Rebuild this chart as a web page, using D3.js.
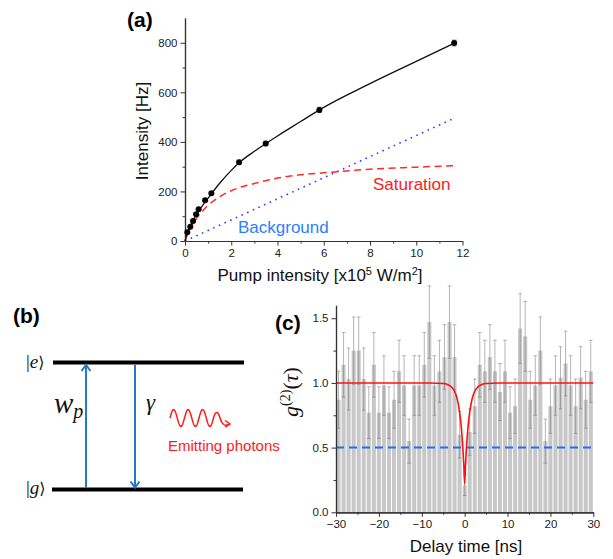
<!DOCTYPE html>
<html>
<head>
<meta charset="utf-8">
<script src="https://cdn.jsdelivr.net/npm/d3@7"></script>
<style>
  body { margin: 0; background: #fff; }
  text { font-family: "Liberation Sans", Arial, sans-serif; }
</style>
</head>
<body>
<svg id="fig" width="613" height="559"></svg>
<script>
// ---- (a) intensity vs pump ----
const pumpX   = [0.1, 0.23, 0.35, 0.48, 0.59, 0.87, 1.14, 2.34, 3.49, 5.81, 11.64];
const pumpY   = [35, 58, 81, 108, 128, 164, 193, 318, 393, 529, 799];
const pumpErr = [4, 4, 4, 5, 5, 6, 6, 8, 9, 11, 12];
// fitted curves
const fitX     = [0, 0.1, 0.25, 0.5, 0.75, 1, 1.5, 2, 2.34, 3, 3.49, 4, 5, 5.81, 8, 10, 11.7];
const fitTotal = [0, 34, 66, 108, 142, 173, 233, 285, 316, 362, 393, 424, 482, 529, 635, 725, 801];
const satX     = [0, 0.1, 0.25, 0.5, 0.75, 1, 1.5, 2, 3, 4, 5, 6, 8, 10, 11.7];
const fitSat   = [0, 24, 53, 92, 120, 144, 179, 203, 232, 254, 267, 275, 290, 298, 304];
const bgX = [0, 11.7];
const bgY = [0, 498];
const aXTicks = [0, 2, 4, 6, 8, 10, 12];
const aYTicks = [0, 200, 400, 600, 800];

// ---- (c) g2(tau) histogram ----
const binW = 30 / 25.5;
const g2Vals = [0.87, 1.14, 1.03, 1.25, 1.25, 1.03, 0.77, 1.14, 0.77, 0.98,
                0.77, 0.87, 1.09, 0.98, 0.55, 0.98, 0.98, 1.14, 1.47, 0.98,
                1.09, 1.20, 1.47, 1.20, 0.60, 0.21, 0.62, 0.82, 1.14, 1.09,
                1.20, 1.09, 0.93, 1.09, 0.77, 0.82, 1.42, 1.36, 0.87, 0.98,
                1.25, 0.55, 0.82, 0.98, 1.04, 1.15, 0.98, 0.82, 1.04, 0.87, 1.09];
const g2Err  = [0.22, 0.25, 0.24, 0.26, 0.26, 0.24, 0.20, 0.25, 0.20, 0.23,
                0.20, 0.22, 0.24, 0.23, 0.17, 0.23, 0.23, 0.25, 0.28, 0.23,
                0.24, 0.25, 0.28, 0.25, 0.18, 0.08, 0.18, 0.21, 0.25, 0.24,
                0.25, 0.24, 0.22, 0.24, 0.20, 0.21, 0.27, 0.27, 0.22, 0.23,
                0.26, 0.17, 0.21, 0.23, 0.24, 0.25, 0.23, 0.21, 0.24, 0.22, 0.24];
const tFit = [-30, -8, -5, -4, -3, -2.5, -2, -1.5, -1, -0.7, -0.4, -0.2, 0,
              0.2, 0.4, 0.7, 1, 1.5, 2, 2.5, 3, 4, 5, 8, 30];
const gFit = [1, 1, 0.996, 0.988, 0.967, 0.944, 0.907, 0.839, 0.728, 0.626, 0.488, 0.368, 0.22,
              0.368, 0.488, 0.626, 0.728, 0.839, 0.907, 0.944, 0.967, 0.988, 0.996, 1, 1];
const cXTicks = [-30, -20, -10, 0, 10, 20, 30];
const cYTicks = [0, 0.5, 1.0, 1.5];

const svg = d3.select("#fig");
svg.append("rect").attr("width", 613).attr("height", 559).attr("fill", "#fff");

const styleAxis = g => {
  g.selectAll("path.domain").attr("stroke", "#333").attr("stroke-width", 1.2);
  g.selectAll(".tick line").attr("stroke", "#333");
  g.selectAll(".tick text").attr("fill", "#222").style("font-size", "11.5px")
    .style("font-family", '"Liberation Sans", Arial, sans-serif');
};

// ================= panel (a) =================
const xa = d3.scaleLinear().domain([0, 12]).range([185, 462.5]);
const ya = d3.scaleLinear().domain([0, 900]).range([241, 18]);
const ga = svg.append("g");

ga.append("g").attr("transform", "translate(0,241)")
  .call(d3.axisBottom(xa).tickValues(d3.range(1, 12, 2)).tickFormat("").tickSize(2.5).tickSizeOuter(0))
  .call(styleAxis);
ga.append("g").attr("transform", "translate(0,241)")
  .call(d3.axisBottom(xa).tickValues(aXTicks).tickSize(4.5).tickPadding(3).tickSizeOuter(0))
  .call(styleAxis);
ga.append("g").attr("transform", "translate(185,0)")
  .call(d3.axisLeft(ya).tickValues([100, 300, 500, 700]).tickFormat("").tickSize(2.5).tickSizeOuter(0))
  .call(styleAxis);
ga.append("g").attr("transform", "translate(185,0)")
  .call(d3.axisLeft(ya).tickValues(aYTicks).tickSize(4.5).tickPadding(3).tickSizeOuter(0))
  .call(styleAxis);

const lineA = d3.line().x(d => xa(d[0])).y(d => ya(d[1]));
ga.append("path").datum(d3.zip(bgX, bgY))
  .attr("d", lineA).attr("fill", "none").attr("stroke", "#3a3aff")
  .attr("stroke-width", 1.6).attr("stroke-dasharray", "1.6,4.6");
ga.append("path").datum(d3.zip(satX, fitSat))
  .attr("d", lineA.curve(d3.curveMonotoneX)).attr("fill", "none").attr("stroke", "#ff2a2a")
  .attr("stroke-width", 1.5).attr("stroke-dasharray", "7,4.5");
ga.append("path").datum(d3.zip(fitX, fitTotal))
  .attr("d", lineA.curve(d3.curveMonotoneX)).attr("fill", "none").attr("stroke", "#111")
  .attr("stroke-width", 1.3);

const ptsA = d3.zip(pumpX, pumpY, pumpErr);
const eb = ga.append("g").attr("stroke", "#9a9a9a").attr("stroke-width", 1);
eb.selectAll("line.v").data(ptsA).join("line")
  .attr("x1", d => xa(d[0])).attr("x2", d => xa(d[0]))
  .attr("y1", d => ya(d[1] - d[2])).attr("y2", d => ya(d[1] + d[2]));
eb.selectAll("line.t").data(ptsA).join("line")
  .attr("x1", d => xa(d[0]) - 2.5).attr("x2", d => xa(d[0]) + 2.5)
  .attr("y1", d => ya(d[1] + d[2])).attr("y2", d => ya(d[1] + d[2]));
eb.selectAll("line.b").data(ptsA).join("line")
  .attr("x1", d => xa(d[0]) - 2.5).attr("x2", d => xa(d[0]) + 2.5)
  .attr("y1", d => ya(d[1] - d[2])).attr("y2", d => ya(d[1] - d[2]));
ga.selectAll("circle").data(ptsA).join("circle")
  .attr("cx", d => xa(d[0])).attr("cy", d => ya(d[1])).attr("r", 3).attr("fill", "#000");

ga.append("text").attr("x", 373).attr("y", 190).attr("fill", "#ff2020")
  .style("font-size", "17px").text("Saturation");
ga.append("text").attr("x", 238).attr("y", 233).attr("fill", "#2a7fff")
  .style("font-size", "17px").text("Background");
ga.append("text").attr("transform", "translate(148,131) rotate(-90)")
  .attr("text-anchor", "middle").style("font-size", "17px").attr("fill", "#111")
  .text("Intensity [Hz]");
const xl = ga.append("text").attr("x", 320).attr("y", 281).attr("text-anchor", "middle")
  .style("font-size", "17px").attr("fill", "#111");
xl.append("tspan").text("Pump intensity [x10");
xl.append("tspan").attr("dy", -6).style("font-size", "11px").text("5");
xl.append("tspan").attr("dy", 6).text(" W/m");
xl.append("tspan").attr("dy", -6).style("font-size", "11px").text("2");
xl.append("tspan").attr("dy", 6).text("]");
ga.append("text").attr("x", 127).attr("y", 27).style("font-size", "21px")
  .style("font-weight", "bold").text("(a)");

// ================= panel (b) =================
const gb = svg.append("g");
const blue = "#2478c8";
const serif = '"Liberation Serif", "DejaVu Serif", serif';
gb.append("text").attr("x", 13).attr("y", 323).style("font-size", "21px")
  .style("font-weight", "bold").text("(b)");
gb.append("line").attr("x1", 53).attr("x2", 244).attr("y1", 362.5).attr("y2", 362.5)
  .attr("stroke", "#000").attr("stroke-width", 4);
gb.append("line").attr("x1", 52).attr("x2", 243).attr("y1", 489.5).attr("y2", 489.5)
  .attr("stroke", "#000").attr("stroke-width", 4);

const ket = (x, y, s) => {
  const t = gb.append("text").attr("x", x).attr("y", y).attr("fill", "#111")
    .style("font-family", serif).style("font-size", "19px");
  t.append("tspan").text("|");
  t.append("tspan").style("font-style", "italic").text(s);
  t.append("tspan").style("font-family", '"DejaVu Sans", serif').style("font-size", "16px").text("⟩");
};
ket(26, 368, "e");
ket(26, 494, "g");

const arrow = (x, y1, y2) => {
  gb.append("line").attr("x1", x).attr("x2", x).attr("y1", y1).attr("y2", y2)
    .attr("stroke", blue).attr("stroke-width", 2);
  const s = y2 < y1 ? 1 : -1;
  gb.append("path")
    .attr("d", `M${x - 4.5},${y2 + s * 6} L${x},${y2} L${x + 4.5},${y2 + s * 6}`)
    .attr("fill", "none").attr("stroke", blue).attr("stroke-width", 2);
};
arrow(86, 488, 365);
arrow(135, 365, 487.5);

const wp = gb.append("text").attr("x", 54).attr("y", 413)
  .style("font-family", serif).style("font-style", "italic")
  .style("font-size", "29px").attr("fill", "#111");
wp.append("tspan").text("w");
wp.append("tspan").attr("dy", 5).style("font-size", "20px").text("p");
gb.append("text").attr("x", 146).attr("y", 410)
  .style("font-family", serif).style("font-style", "italic")
  .style("font-size", "23px").attr("fill", "#111").text("γ");

// wavy photon arrow
const wave = d3.range(0, 44.5, 0.5).map(u => [170 + u, 418 - 8.5 * Math.sin((u / 14.5) * 2 * Math.PI)]);
gb.append("path").attr("d", d3.line()(wave) + " Q217,408 220,418 T229,424")
  .attr("fill", "none").attr("stroke", "#ff1a1a").attr("stroke-width", 1.5);
gb.append("path").attr("d", "M225,420.5 L230,424 L225,427")
  .attr("fill", "none").attr("stroke", "#ff1a1a").attr("stroke-width", 1.5);
gb.append("text").attr("x", 168).attr("y", 451).attr("fill", "#ff1a1a")
  .style("font-size", "15px").text("Emitting photons");

// ================= panel (c) =================
const xc = d3.scaleLinear().domain([-30, 30]).range([336, 593.3]);
const yc = d3.scaleLinear().domain([0, 1.6]).range([512.3, 305.3]);
const gc = svg.append("g");
gc.append("text").attr("x", 275).attr("y", 330).style("font-size", "21px")
  .style("font-weight", "bold").text("(c)");

const bins = g2Vals.map((v, i) => ({ t: (i - 25) * binW, v, e: g2Err[i] }));
const bw = xc(binW) - xc(0);
gc.append("g").selectAll("rect").data(bins).join("rect")
  .attr("x", d => xc(d.t - binW / 2) + 0.5).attr("width", bw - 1)
  .attr("y", d => yc(d.v)).attr("height", d => yc(0) - yc(d.v))
  .attr("fill", "#c8c8c8");
const ebc = gc.append("g").attr("stroke", "#7a7a7a").attr("stroke-opacity", 0.55).attr("stroke-width", 1);
ebc.selectAll("line.v").data(bins).join("line")
  .attr("x1", d => xc(d.t)).attr("x2", d => xc(d.t))
  .attr("y1", d => yc(d.v - d.e)).attr("y2", d => yc(d.v + d.e));
ebc.selectAll("line.t").data(bins).join("line")
  .attr("x1", d => xc(d.t) - 1.8).attr("x2", d => xc(d.t) + 1.8)
  .attr("y1", d => yc(d.v + d.e)).attr("y2", d => yc(d.v + d.e));
ebc.selectAll("line.b").data(bins).join("line")
  .attr("x1", d => xc(d.t) - 1.8).attr("x2", d => xc(d.t) + 1.8)
  .attr("y1", d => yc(d.v - d.e)).attr("y2", d => yc(d.v - d.e));

gc.append("line").attr("x1", xc(-30)).attr("x2", xc(30))
  .attr("y1", yc(0.5)).attr("y2", yc(0.5))
  .attr("stroke", "#1f6fff").attr("stroke-width", 2).attr("stroke-dasharray", "8,5");
gc.append("path").datum(d3.zip(tFit, gFit))
  .attr("d", d3.line().x(d => xc(d[0])).y(d => yc(d[1])).curve(d3.curveMonotoneX))
  .attr("fill", "none").attr("stroke", "#ff1010").attr("stroke-width", 1.6);

gc.append("g").attr("transform", "translate(0,512.3)")
  .call(d3.axisBottom(xc).tickValues([-25, -15, -5, 5, 15, 25]).tickFormat("").tickSize(2.5).tickSizeOuter(0))
  .call(styleAxis);
gc.append("g").attr("transform", "translate(0,512.3)")
  .call(d3.axisBottom(xc).tickValues(cXTicks).tickSize(4.5).tickPadding(3).tickSizeOuter(0)
    .tickFormat(d => d < 0 ? "\u2212" + Math.abs(d) : d))
  .call(styleAxis);
gc.append("g").attr("transform", "translate(336,0)")
  .call(d3.axisLeft(yc).tickValues([0.25, 0.75, 1.25]).tickFormat("").tickSize(2.5).tickSizeOuter(0))
  .call(styleAxis);
gc.append("g").attr("transform", "translate(336,0)")
  .call(d3.axisLeft(yc).tickValues(cYTicks).tickSize(4.5).tickPadding(3).tickSizeOuter(0).tickFormat(d3.format(".1f")))
  .call(styleAxis);

gc.append("text").attr("x", 466).attr("y", 552).attr("text-anchor", "middle")
  .style("font-size", "17px").attr("fill", "#111").text("Delay time [ns]");
const yl = gc.append("text").attr("transform", "translate(298,392) rotate(-90)")
  .attr("text-anchor", "middle").attr("fill", "#111")
  .style("font-family", serif).style("font-size", "22px");
yl.append("tspan").style("font-style", "italic").text("g");
yl.append("tspan").attr("dy", -8).style("font-size", "14px").text("(2)");
yl.append("tspan").attr("dy", 8).text("(");
yl.append("tspan").style("font-style", "italic").text("τ");
yl.append("tspan").text(")");
</script>
</body>
</html>
